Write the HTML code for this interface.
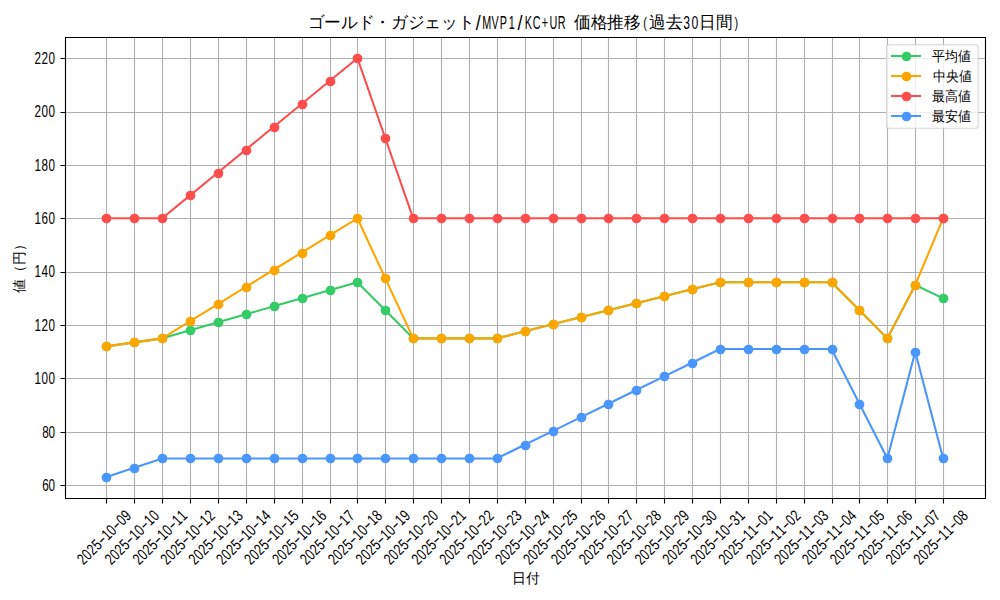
<!DOCTYPE html><html><head><meta charset="utf-8"><style>html,body{margin:0;padding:0;background:#fff;width:1000px;height:600px;overflow:hidden}svg{display:block}text{font-family:"Liberation Sans",sans-serif;fill:#000}</style></head><body>
<svg width="1000" height="600" viewBox="0 0 1000 600">
<rect width="1000" height="600" fill="#fff"/>
<path d="M106.5 37V498M134.5 37V498M162.5 37V498M190.5 37V498M218.5 37V498M246.5 37V498M274.5 37V498M302.5 37V498M330.5 37V498M357.5 37V498M385.5 37V498M413.5 37V498M441.5 37V498M469.5 37V498M497.5 37V498M525.5 37V498M553.5 37V498M581.5 37V498M608.5 37V498M636.5 37V498M664.5 37V498M692.5 37V498M720.5 37V498M748.5 37V498M776.5 37V498M804.5 37V498M832.5 37V498M859.5 37V498M887.5 37V498M915.5 37V498M943.5 37V498M65 485.5H985M65 432.5H985M65 378.5H985M65 325.5H985M65 272.5H985M65 218.5H985M65 165.5H985M65 112.5H985M65 58.5H985" stroke="#b0b0b0" stroke-width="1.11" fill="none"/>
<polyline points="106.42,346.36 134.31,342.36 162.20,338.36 190.09,330.35 217.98,322.35 245.87,314.34 273.76,306.34 301.65,298.33 329.54,290.33 357.43,282.33 385.32,310.34 413.21,338.36 441.10,338.36 468.99,338.36 496.88,338.36 524.77,331.35 552.66,324.35 580.55,317.35 608.44,310.34 636.33,303.34 664.22,296.33 692.11,289.33 720.00,282.33 747.89,282.33 775.78,282.33 803.67,282.33 831.56,282.33 859.45,310.34 887.34,338.36 915.23,284.99 943.12,298.33" fill="none" stroke="#33cc66" stroke-width="2.083" stroke-linejoin="round" stroke-linecap="butt"/>
<g fill="#33cc66"><circle cx="106.5" cy="346.5" r="4.86"/><circle cx="134.5" cy="342.5" r="4.86"/><circle cx="162.5" cy="338.5" r="4.86"/><circle cx="190.5" cy="330.5" r="4.86"/><circle cx="218.5" cy="322.5" r="4.86"/><circle cx="246.5" cy="314.5" r="4.86"/><circle cx="274.5" cy="306.5" r="4.86"/><circle cx="302.5" cy="298.5" r="4.86"/><circle cx="330.5" cy="290.5" r="4.86"/><circle cx="357.5" cy="282.5" r="4.86"/><circle cx="385.5" cy="310.5" r="4.86"/><circle cx="413.5" cy="338.5" r="4.86"/><circle cx="441.5" cy="338.5" r="4.86"/><circle cx="469.5" cy="338.5" r="4.86"/><circle cx="497.5" cy="338.5" r="4.86"/><circle cx="525.5" cy="331.5" r="4.86"/><circle cx="553.5" cy="324.5" r="4.86"/><circle cx="581.5" cy="317.5" r="4.86"/><circle cx="608.5" cy="310.5" r="4.86"/><circle cx="636.5" cy="303.5" r="4.86"/><circle cx="664.5" cy="296.5" r="4.86"/><circle cx="692.5" cy="289.5" r="4.86"/><circle cx="720.5" cy="282.5" r="4.86"/><circle cx="748.5" cy="282.5" r="4.86"/><circle cx="776.5" cy="282.5" r="4.86"/><circle cx="804.5" cy="282.5" r="4.86"/><circle cx="832.5" cy="282.5" r="4.86"/><circle cx="859.5" cy="310.5" r="4.86"/><circle cx="887.5" cy="338.5" r="4.86"/><circle cx="915.5" cy="285.5" r="4.86"/><circle cx="943.5" cy="298.5" r="4.86"/></g>
<polyline points="106.42,346.36 134.31,342.36 162.20,338.36 190.09,321.20 217.98,304.05 245.87,286.90 273.76,269.75 301.65,252.59 329.54,235.44 357.43,218.29 385.32,278.32 413.21,338.36 441.10,338.36 468.99,338.36 496.88,338.36 524.77,331.35 552.66,324.35 580.55,317.35 608.44,310.34 636.33,303.34 664.22,296.33 692.11,289.33 720.00,282.33 747.89,282.33 775.78,282.33 803.67,282.33 831.56,282.33 859.45,310.34 887.34,338.36 915.23,284.99 943.12,218.29" fill="none" stroke="#ffa500" stroke-width="2.083" stroke-linejoin="round" stroke-linecap="butt"/>
<g fill="#ffa500"><circle cx="106.5" cy="346.5" r="4.86"/><circle cx="134.5" cy="342.5" r="4.86"/><circle cx="162.5" cy="338.5" r="4.86"/><circle cx="190.5" cy="321.5" r="4.86"/><circle cx="218.5" cy="304.5" r="4.86"/><circle cx="246.5" cy="287.5" r="4.86"/><circle cx="274.5" cy="270.5" r="4.86"/><circle cx="302.5" cy="253.5" r="4.86"/><circle cx="330.5" cy="235.5" r="4.86"/><circle cx="357.5" cy="218.5" r="4.86"/><circle cx="385.5" cy="278.5" r="4.86"/><circle cx="413.5" cy="338.5" r="4.86"/><circle cx="441.5" cy="338.5" r="4.86"/><circle cx="469.5" cy="338.5" r="4.86"/><circle cx="497.5" cy="338.5" r="4.86"/><circle cx="525.5" cy="331.5" r="4.86"/><circle cx="553.5" cy="324.5" r="4.86"/><circle cx="581.5" cy="317.5" r="4.86"/><circle cx="608.5" cy="310.5" r="4.86"/><circle cx="636.5" cy="303.5" r="4.86"/><circle cx="664.5" cy="296.5" r="4.86"/><circle cx="692.5" cy="289.5" r="4.86"/><circle cx="720.5" cy="282.5" r="4.86"/><circle cx="748.5" cy="282.5" r="4.86"/><circle cx="776.5" cy="282.5" r="4.86"/><circle cx="804.5" cy="282.5" r="4.86"/><circle cx="832.5" cy="282.5" r="4.86"/><circle cx="859.5" cy="310.5" r="4.86"/><circle cx="887.5" cy="338.5" r="4.86"/><circle cx="915.5" cy="285.5" r="4.86"/><circle cx="943.5" cy="218.5" r="4.86"/></g>
<polyline points="106.42,218.29 134.31,218.29 162.20,218.29 190.09,195.42 217.98,172.55 245.87,149.68 273.76,126.81 301.65,103.94 329.54,81.06 357.43,58.20 385.32,138.24 413.21,218.29 441.10,218.29 468.99,218.29 496.88,218.29 524.77,218.29 552.66,218.29 580.55,218.29 608.44,218.29 636.33,218.29 664.22,218.29 692.11,218.29 720.00,218.29 747.89,218.29 775.78,218.29 803.67,218.29 831.56,218.29 859.45,218.29 887.34,218.29 915.23,218.29 943.12,218.29" fill="none" stroke="#ff4d4d" stroke-width="2.083" stroke-linejoin="round" stroke-linecap="butt"/>
<g fill="#ff4d4d"><circle cx="106.5" cy="218.5" r="4.86"/><circle cx="134.5" cy="218.5" r="4.86"/><circle cx="162.5" cy="218.5" r="4.86"/><circle cx="190.5" cy="195.5" r="4.86"/><circle cx="218.5" cy="173.5" r="4.86"/><circle cx="246.5" cy="150.5" r="4.86"/><circle cx="274.5" cy="127.5" r="4.86"/><circle cx="302.5" cy="104.5" r="4.86"/><circle cx="330.5" cy="81.5" r="4.86"/><circle cx="357.5" cy="58.5" r="4.86"/><circle cx="385.5" cy="138.5" r="4.86"/><circle cx="413.5" cy="218.5" r="4.86"/><circle cx="441.5" cy="218.5" r="4.86"/><circle cx="469.5" cy="218.5" r="4.86"/><circle cx="497.5" cy="218.5" r="4.86"/><circle cx="525.5" cy="218.5" r="4.86"/><circle cx="553.5" cy="218.5" r="4.86"/><circle cx="581.5" cy="218.5" r="4.86"/><circle cx="608.5" cy="218.5" r="4.86"/><circle cx="636.5" cy="218.5" r="4.86"/><circle cx="664.5" cy="218.5" r="4.86"/><circle cx="692.5" cy="218.5" r="4.86"/><circle cx="720.5" cy="218.5" r="4.86"/><circle cx="748.5" cy="218.5" r="4.86"/><circle cx="776.5" cy="218.5" r="4.86"/><circle cx="804.5" cy="218.5" r="4.86"/><circle cx="832.5" cy="218.5" r="4.86"/><circle cx="859.5" cy="218.5" r="4.86"/><circle cx="887.5" cy="218.5" r="4.86"/><circle cx="915.5" cy="218.5" r="4.86"/><circle cx="943.5" cy="218.5" r="4.86"/></g>
<polyline points="106.42,477.10 134.31,467.77 162.20,458.43 190.09,458.43 217.98,458.43 245.87,458.43 273.76,458.43 301.65,458.43 329.54,458.43 357.43,458.43 385.32,458.43 413.21,458.43 441.10,458.43 468.99,458.43 496.88,458.43 524.77,444.75 552.66,431.08 580.55,417.40 608.44,403.73 636.33,390.05 664.22,376.38 692.11,362.71 720.00,349.03 747.89,349.03 775.78,349.03 803.67,349.03 831.56,349.03 859.45,403.73 887.34,458.43 915.23,351.70 943.12,458.43" fill="none" stroke="#4a96ff" stroke-width="2.083" stroke-linejoin="round" stroke-linecap="butt"/>
<g fill="#4a96ff"><circle cx="106.5" cy="477.5" r="4.86"/><circle cx="134.5" cy="468.5" r="4.86"/><circle cx="162.5" cy="458.5" r="4.86"/><circle cx="190.5" cy="458.5" r="4.86"/><circle cx="218.5" cy="458.5" r="4.86"/><circle cx="246.5" cy="458.5" r="4.86"/><circle cx="274.5" cy="458.5" r="4.86"/><circle cx="302.5" cy="458.5" r="4.86"/><circle cx="330.5" cy="458.5" r="4.86"/><circle cx="357.5" cy="458.5" r="4.86"/><circle cx="385.5" cy="458.5" r="4.86"/><circle cx="413.5" cy="458.5" r="4.86"/><circle cx="441.5" cy="458.5" r="4.86"/><circle cx="469.5" cy="458.5" r="4.86"/><circle cx="497.5" cy="458.5" r="4.86"/><circle cx="525.5" cy="445.5" r="4.86"/><circle cx="553.5" cy="431.5" r="4.86"/><circle cx="581.5" cy="417.5" r="4.86"/><circle cx="608.5" cy="404.5" r="4.86"/><circle cx="636.5" cy="390.5" r="4.86"/><circle cx="664.5" cy="376.5" r="4.86"/><circle cx="692.5" cy="363.5" r="4.86"/><circle cx="720.5" cy="349.5" r="4.86"/><circle cx="748.5" cy="349.5" r="4.86"/><circle cx="776.5" cy="349.5" r="4.86"/><circle cx="804.5" cy="349.5" r="4.86"/><circle cx="832.5" cy="349.5" r="4.86"/><circle cx="859.5" cy="404.5" r="4.86"/><circle cx="887.5" cy="458.5" r="4.86"/><circle cx="915.5" cy="352.5" r="4.86"/><circle cx="943.5" cy="458.5" r="4.86"/></g>
<path d="M65.5 37V498.5M985.5 37V498.5M65 37.5H986M65 498.5H986" stroke="#000" stroke-width="1.11" fill="none"/>
<path d="M106.5 498.5V503.5M134.5 498.5V503.5M162.5 498.5V503.5M190.5 498.5V503.5M218.5 498.5V503.5M246.5 498.5V503.5M274.5 498.5V503.5M302.5 498.5V503.5M330.5 498.5V503.5M357.5 498.5V503.5M385.5 498.5V503.5M413.5 498.5V503.5M441.5 498.5V503.5M469.5 498.5V503.5M497.5 498.5V503.5M525.5 498.5V503.5M553.5 498.5V503.5M581.5 498.5V503.5M608.5 498.5V503.5M636.5 498.5V503.5M664.5 498.5V503.5M692.5 498.5V503.5M720.5 498.5V503.5M748.5 498.5V503.5M776.5 498.5V503.5M804.5 498.5V503.5M832.5 498.5V503.5M859.5 498.5V503.5M887.5 498.5V503.5M915.5 498.5V503.5M943.5 498.5V503.5M60.5 485.5H65M60.5 432.5H65M60.5 378.5H65M60.5 325.5H65M60.5 272.5H65M60.5 218.5H65M60.5 165.5H65M60.5 112.5H65M60.5 58.5H65" stroke="#000" stroke-width="1.11" fill="none"/>
<text transform="translate(54.9 490.91) scale(0.75 1)" font-size="15.6" text-anchor="end" textLength="17.0" lengthAdjust="spacing">60</text>
<text transform="translate(54.9 437.54) scale(0.75 1)" font-size="15.6" text-anchor="end" textLength="17.0" lengthAdjust="spacing">80</text>
<text transform="translate(54.9 384.18) scale(0.75 1)" font-size="15.6" text-anchor="end" textLength="27.2" lengthAdjust="spacing">100</text>
<text transform="translate(54.9 330.82) scale(0.75 1)" font-size="15.6" text-anchor="end" textLength="27.2" lengthAdjust="spacing">120</text>
<text transform="translate(54.9 277.45) scale(0.75 1)" font-size="15.6" text-anchor="end" textLength="27.2" lengthAdjust="spacing">140</text>
<text transform="translate(54.9 224.09) scale(0.75 1)" font-size="15.6" text-anchor="end" textLength="27.2" lengthAdjust="spacing">160</text>
<text transform="translate(54.9 170.72) scale(0.75 1)" font-size="15.6" text-anchor="end" textLength="27.2" lengthAdjust="spacing">180</text>
<text transform="translate(54.9 117.36) scale(0.75 1)" font-size="15.6" text-anchor="end" textLength="27.2" lengthAdjust="spacing">200</text>
<text transform="translate(54.9 64.00) scale(0.75 1)" font-size="15.6" text-anchor="end" textLength="27.2" lengthAdjust="spacing">220</text>
<text transform="translate(132.10 516.90) rotate(-45) scale(0.75 1)" font-size="16"><tspan x="-91.82 -82.56 -73.30 -64.04">2025</tspan><tspan x="-55.33" dy="-0.55" textLength="10.00" lengthAdjust="spacingAndGlyphs">-</tspan><tspan dy="0.55" x="-45.52 -36.26">10</tspan><tspan x="-27.55" dy="-0.55" textLength="10.00" lengthAdjust="spacingAndGlyphs">-</tspan><tspan dy="0.55" x="-17.74 -8.48">09</tspan></text>
<text transform="translate(159.99 516.90) rotate(-45) scale(0.75 1)" font-size="16"><tspan x="-91.82 -82.56 -73.30 -64.04">2025</tspan><tspan x="-55.33" dy="-0.55" textLength="10.00" lengthAdjust="spacingAndGlyphs">-</tspan><tspan dy="0.55" x="-45.52 -36.26">10</tspan><tspan x="-27.55" dy="-0.55" textLength="10.00" lengthAdjust="spacingAndGlyphs">-</tspan><tspan dy="0.55" x="-17.74 -8.48">10</tspan></text>
<text transform="translate(187.88 516.90) rotate(-45) scale(0.75 1)" font-size="16"><tspan x="-91.82 -82.56 -73.30 -64.04">2025</tspan><tspan x="-55.33" dy="-0.55" textLength="10.00" lengthAdjust="spacingAndGlyphs">-</tspan><tspan dy="0.55" x="-45.52 -36.26">10</tspan><tspan x="-27.55" dy="-0.55" textLength="10.00" lengthAdjust="spacingAndGlyphs">-</tspan><tspan dy="0.55" x="-17.74 -8.48">11</tspan></text>
<text transform="translate(215.77 516.90) rotate(-45) scale(0.75 1)" font-size="16"><tspan x="-91.82 -82.56 -73.30 -64.04">2025</tspan><tspan x="-55.33" dy="-0.55" textLength="10.00" lengthAdjust="spacingAndGlyphs">-</tspan><tspan dy="0.55" x="-45.52 -36.26">10</tspan><tspan x="-27.55" dy="-0.55" textLength="10.00" lengthAdjust="spacingAndGlyphs">-</tspan><tspan dy="0.55" x="-17.74 -8.48">12</tspan></text>
<text transform="translate(243.66 516.90) rotate(-45) scale(0.75 1)" font-size="16"><tspan x="-91.82 -82.56 -73.30 -64.04">2025</tspan><tspan x="-55.33" dy="-0.55" textLength="10.00" lengthAdjust="spacingAndGlyphs">-</tspan><tspan dy="0.55" x="-45.52 -36.26">10</tspan><tspan x="-27.55" dy="-0.55" textLength="10.00" lengthAdjust="spacingAndGlyphs">-</tspan><tspan dy="0.55" x="-17.74 -8.48">13</tspan></text>
<text transform="translate(271.55 516.90) rotate(-45) scale(0.75 1)" font-size="16"><tspan x="-91.82 -82.56 -73.30 -64.04">2025</tspan><tspan x="-55.33" dy="-0.55" textLength="10.00" lengthAdjust="spacingAndGlyphs">-</tspan><tspan dy="0.55" x="-45.52 -36.26">10</tspan><tspan x="-27.55" dy="-0.55" textLength="10.00" lengthAdjust="spacingAndGlyphs">-</tspan><tspan dy="0.55" x="-17.74 -8.48">14</tspan></text>
<text transform="translate(299.44 516.90) rotate(-45) scale(0.75 1)" font-size="16"><tspan x="-91.82 -82.56 -73.30 -64.04">2025</tspan><tspan x="-55.33" dy="-0.55" textLength="10.00" lengthAdjust="spacingAndGlyphs">-</tspan><tspan dy="0.55" x="-45.52 -36.26">10</tspan><tspan x="-27.55" dy="-0.55" textLength="10.00" lengthAdjust="spacingAndGlyphs">-</tspan><tspan dy="0.55" x="-17.74 -8.48">15</tspan></text>
<text transform="translate(327.33 516.90) rotate(-45) scale(0.75 1)" font-size="16"><tspan x="-91.82 -82.56 -73.30 -64.04">2025</tspan><tspan x="-55.33" dy="-0.55" textLength="10.00" lengthAdjust="spacingAndGlyphs">-</tspan><tspan dy="0.55" x="-45.52 -36.26">10</tspan><tspan x="-27.55" dy="-0.55" textLength="10.00" lengthAdjust="spacingAndGlyphs">-</tspan><tspan dy="0.55" x="-17.74 -8.48">16</tspan></text>
<text transform="translate(355.22 516.90) rotate(-45) scale(0.75 1)" font-size="16"><tspan x="-91.82 -82.56 -73.30 -64.04">2025</tspan><tspan x="-55.33" dy="-0.55" textLength="10.00" lengthAdjust="spacingAndGlyphs">-</tspan><tspan dy="0.55" x="-45.52 -36.26">10</tspan><tspan x="-27.55" dy="-0.55" textLength="10.00" lengthAdjust="spacingAndGlyphs">-</tspan><tspan dy="0.55" x="-17.74 -8.48">17</tspan></text>
<text transform="translate(383.11 516.90) rotate(-45) scale(0.75 1)" font-size="16"><tspan x="-91.82 -82.56 -73.30 -64.04">2025</tspan><tspan x="-55.33" dy="-0.55" textLength="10.00" lengthAdjust="spacingAndGlyphs">-</tspan><tspan dy="0.55" x="-45.52 -36.26">10</tspan><tspan x="-27.55" dy="-0.55" textLength="10.00" lengthAdjust="spacingAndGlyphs">-</tspan><tspan dy="0.55" x="-17.74 -8.48">18</tspan></text>
<text transform="translate(411.00 516.90) rotate(-45) scale(0.75 1)" font-size="16"><tspan x="-91.82 -82.56 -73.30 -64.04">2025</tspan><tspan x="-55.33" dy="-0.55" textLength="10.00" lengthAdjust="spacingAndGlyphs">-</tspan><tspan dy="0.55" x="-45.52 -36.26">10</tspan><tspan x="-27.55" dy="-0.55" textLength="10.00" lengthAdjust="spacingAndGlyphs">-</tspan><tspan dy="0.55" x="-17.74 -8.48">19</tspan></text>
<text transform="translate(438.89 516.90) rotate(-45) scale(0.75 1)" font-size="16"><tspan x="-91.82 -82.56 -73.30 -64.04">2025</tspan><tspan x="-55.33" dy="-0.55" textLength="10.00" lengthAdjust="spacingAndGlyphs">-</tspan><tspan dy="0.55" x="-45.52 -36.26">10</tspan><tspan x="-27.55" dy="-0.55" textLength="10.00" lengthAdjust="spacingAndGlyphs">-</tspan><tspan dy="0.55" x="-17.74 -8.48">20</tspan></text>
<text transform="translate(466.78 516.90) rotate(-45) scale(0.75 1)" font-size="16"><tspan x="-91.82 -82.56 -73.30 -64.04">2025</tspan><tspan x="-55.33" dy="-0.55" textLength="10.00" lengthAdjust="spacingAndGlyphs">-</tspan><tspan dy="0.55" x="-45.52 -36.26">10</tspan><tspan x="-27.55" dy="-0.55" textLength="10.00" lengthAdjust="spacingAndGlyphs">-</tspan><tspan dy="0.55" x="-17.74 -8.48">21</tspan></text>
<text transform="translate(494.67 516.90) rotate(-45) scale(0.75 1)" font-size="16"><tspan x="-91.82 -82.56 -73.30 -64.04">2025</tspan><tspan x="-55.33" dy="-0.55" textLength="10.00" lengthAdjust="spacingAndGlyphs">-</tspan><tspan dy="0.55" x="-45.52 -36.26">10</tspan><tspan x="-27.55" dy="-0.55" textLength="10.00" lengthAdjust="spacingAndGlyphs">-</tspan><tspan dy="0.55" x="-17.74 -8.48">22</tspan></text>
<text transform="translate(522.56 516.90) rotate(-45) scale(0.75 1)" font-size="16"><tspan x="-91.82 -82.56 -73.30 -64.04">2025</tspan><tspan x="-55.33" dy="-0.55" textLength="10.00" lengthAdjust="spacingAndGlyphs">-</tspan><tspan dy="0.55" x="-45.52 -36.26">10</tspan><tspan x="-27.55" dy="-0.55" textLength="10.00" lengthAdjust="spacingAndGlyphs">-</tspan><tspan dy="0.55" x="-17.74 -8.48">23</tspan></text>
<text transform="translate(550.45 516.90) rotate(-45) scale(0.75 1)" font-size="16"><tspan x="-91.82 -82.56 -73.30 -64.04">2025</tspan><tspan x="-55.33" dy="-0.55" textLength="10.00" lengthAdjust="spacingAndGlyphs">-</tspan><tspan dy="0.55" x="-45.52 -36.26">10</tspan><tspan x="-27.55" dy="-0.55" textLength="10.00" lengthAdjust="spacingAndGlyphs">-</tspan><tspan dy="0.55" x="-17.74 -8.48">24</tspan></text>
<text transform="translate(578.34 516.90) rotate(-45) scale(0.75 1)" font-size="16"><tspan x="-91.82 -82.56 -73.30 -64.04">2025</tspan><tspan x="-55.33" dy="-0.55" textLength="10.00" lengthAdjust="spacingAndGlyphs">-</tspan><tspan dy="0.55" x="-45.52 -36.26">10</tspan><tspan x="-27.55" dy="-0.55" textLength="10.00" lengthAdjust="spacingAndGlyphs">-</tspan><tspan dy="0.55" x="-17.74 -8.48">25</tspan></text>
<text transform="translate(606.23 516.90) rotate(-45) scale(0.75 1)" font-size="16"><tspan x="-91.82 -82.56 -73.30 -64.04">2025</tspan><tspan x="-55.33" dy="-0.55" textLength="10.00" lengthAdjust="spacingAndGlyphs">-</tspan><tspan dy="0.55" x="-45.52 -36.26">10</tspan><tspan x="-27.55" dy="-0.55" textLength="10.00" lengthAdjust="spacingAndGlyphs">-</tspan><tspan dy="0.55" x="-17.74 -8.48">26</tspan></text>
<text transform="translate(634.12 516.90) rotate(-45) scale(0.75 1)" font-size="16"><tspan x="-91.82 -82.56 -73.30 -64.04">2025</tspan><tspan x="-55.33" dy="-0.55" textLength="10.00" lengthAdjust="spacingAndGlyphs">-</tspan><tspan dy="0.55" x="-45.52 -36.26">10</tspan><tspan x="-27.55" dy="-0.55" textLength="10.00" lengthAdjust="spacingAndGlyphs">-</tspan><tspan dy="0.55" x="-17.74 -8.48">27</tspan></text>
<text transform="translate(662.01 516.90) rotate(-45) scale(0.75 1)" font-size="16"><tspan x="-91.82 -82.56 -73.30 -64.04">2025</tspan><tspan x="-55.33" dy="-0.55" textLength="10.00" lengthAdjust="spacingAndGlyphs">-</tspan><tspan dy="0.55" x="-45.52 -36.26">10</tspan><tspan x="-27.55" dy="-0.55" textLength="10.00" lengthAdjust="spacingAndGlyphs">-</tspan><tspan dy="0.55" x="-17.74 -8.48">28</tspan></text>
<text transform="translate(689.90 516.90) rotate(-45) scale(0.75 1)" font-size="16"><tspan x="-91.82 -82.56 -73.30 -64.04">2025</tspan><tspan x="-55.33" dy="-0.55" textLength="10.00" lengthAdjust="spacingAndGlyphs">-</tspan><tspan dy="0.55" x="-45.52 -36.26">10</tspan><tspan x="-27.55" dy="-0.55" textLength="10.00" lengthAdjust="spacingAndGlyphs">-</tspan><tspan dy="0.55" x="-17.74 -8.48">29</tspan></text>
<text transform="translate(717.79 516.90) rotate(-45) scale(0.75 1)" font-size="16"><tspan x="-91.82 -82.56 -73.30 -64.04">2025</tspan><tspan x="-55.33" dy="-0.55" textLength="10.00" lengthAdjust="spacingAndGlyphs">-</tspan><tspan dy="0.55" x="-45.52 -36.26">10</tspan><tspan x="-27.55" dy="-0.55" textLength="10.00" lengthAdjust="spacingAndGlyphs">-</tspan><tspan dy="0.55" x="-17.74 -8.48">30</tspan></text>
<text transform="translate(745.68 516.90) rotate(-45) scale(0.75 1)" font-size="16"><tspan x="-91.82 -82.56 -73.30 -64.04">2025</tspan><tspan x="-55.33" dy="-0.55" textLength="10.00" lengthAdjust="spacingAndGlyphs">-</tspan><tspan dy="0.55" x="-45.52 -36.26">10</tspan><tspan x="-27.55" dy="-0.55" textLength="10.00" lengthAdjust="spacingAndGlyphs">-</tspan><tspan dy="0.55" x="-17.74 -8.48">31</tspan></text>
<text transform="translate(773.57 516.90) rotate(-45) scale(0.75 1)" font-size="16"><tspan x="-91.82 -82.56 -73.30 -64.04">2025</tspan><tspan x="-55.33" dy="-0.55" textLength="10.00" lengthAdjust="spacingAndGlyphs">-</tspan><tspan dy="0.55" x="-45.52 -36.26">11</tspan><tspan x="-27.55" dy="-0.55" textLength="10.00" lengthAdjust="spacingAndGlyphs">-</tspan><tspan dy="0.55" x="-17.74 -8.48">01</tspan></text>
<text transform="translate(801.46 516.90) rotate(-45) scale(0.75 1)" font-size="16"><tspan x="-91.82 -82.56 -73.30 -64.04">2025</tspan><tspan x="-55.33" dy="-0.55" textLength="10.00" lengthAdjust="spacingAndGlyphs">-</tspan><tspan dy="0.55" x="-45.52 -36.26">11</tspan><tspan x="-27.55" dy="-0.55" textLength="10.00" lengthAdjust="spacingAndGlyphs">-</tspan><tspan dy="0.55" x="-17.74 -8.48">02</tspan></text>
<text transform="translate(829.35 516.90) rotate(-45) scale(0.75 1)" font-size="16"><tspan x="-91.82 -82.56 -73.30 -64.04">2025</tspan><tspan x="-55.33" dy="-0.55" textLength="10.00" lengthAdjust="spacingAndGlyphs">-</tspan><tspan dy="0.55" x="-45.52 -36.26">11</tspan><tspan x="-27.55" dy="-0.55" textLength="10.00" lengthAdjust="spacingAndGlyphs">-</tspan><tspan dy="0.55" x="-17.74 -8.48">03</tspan></text>
<text transform="translate(857.24 516.90) rotate(-45) scale(0.75 1)" font-size="16"><tspan x="-91.82 -82.56 -73.30 -64.04">2025</tspan><tspan x="-55.33" dy="-0.55" textLength="10.00" lengthAdjust="spacingAndGlyphs">-</tspan><tspan dy="0.55" x="-45.52 -36.26">11</tspan><tspan x="-27.55" dy="-0.55" textLength="10.00" lengthAdjust="spacingAndGlyphs">-</tspan><tspan dy="0.55" x="-17.74 -8.48">04</tspan></text>
<text transform="translate(885.13 516.90) rotate(-45) scale(0.75 1)" font-size="16"><tspan x="-91.82 -82.56 -73.30 -64.04">2025</tspan><tspan x="-55.33" dy="-0.55" textLength="10.00" lengthAdjust="spacingAndGlyphs">-</tspan><tspan dy="0.55" x="-45.52 -36.26">11</tspan><tspan x="-27.55" dy="-0.55" textLength="10.00" lengthAdjust="spacingAndGlyphs">-</tspan><tspan dy="0.55" x="-17.74 -8.48">05</tspan></text>
<text transform="translate(913.02 516.90) rotate(-45) scale(0.75 1)" font-size="16"><tspan x="-91.82 -82.56 -73.30 -64.04">2025</tspan><tspan x="-55.33" dy="-0.55" textLength="10.00" lengthAdjust="spacingAndGlyphs">-</tspan><tspan dy="0.55" x="-45.52 -36.26">11</tspan><tspan x="-27.55" dy="-0.55" textLength="10.00" lengthAdjust="spacingAndGlyphs">-</tspan><tspan dy="0.55" x="-17.74 -8.48">06</tspan></text>
<text transform="translate(940.91 516.90) rotate(-45) scale(0.75 1)" font-size="16"><tspan x="-91.82 -82.56 -73.30 -64.04">2025</tspan><tspan x="-55.33" dy="-0.55" textLength="10.00" lengthAdjust="spacingAndGlyphs">-</tspan><tspan dy="0.55" x="-45.52 -36.26">11</tspan><tspan x="-27.55" dy="-0.55" textLength="10.00" lengthAdjust="spacingAndGlyphs">-</tspan><tspan dy="0.55" x="-17.74 -8.48">07</tspan></text>
<text transform="translate(968.80 516.90) rotate(-45) scale(0.75 1)" font-size="16"><tspan x="-91.82 -82.56 -73.30 -64.04">2025</tspan><tspan x="-55.33" dy="-0.55" textLength="10.00" lengthAdjust="spacingAndGlyphs">-</tspan><tspan dy="0.55" x="-45.52 -36.26">11</tspan><tspan x="-27.55" dy="-0.55" textLength="10.00" lengthAdjust="spacingAndGlyphs">-</tspan><tspan dy="0.55" x="-17.74 -8.48">08</tspan></text>
<g><text x="307.50" y="28" font-size="16.67" textLength="166.67" lengthAdjust="spacingAndGlyphs">ゴールド・ガジェット</text><text transform="translate(474.17 28.5) scale(0.6 1)" font-size="18"><tspan x="2.78" dy="1.8" font-size="20.5" textLength="8.33" lengthAdjust="spacingAndGlyphs">/</tspan><tspan x="13.34" dy="-1.8">M</tspan><tspan x="28.72">V</tspan><tspan x="42.61">P</tspan><tspan x="57.49">1</tspan><tspan x="72.22" dy="1.8" font-size="20.5" textLength="8.33" lengthAdjust="spacingAndGlyphs">/</tspan><tspan x="84.28" dy="-1.8">K</tspan><tspan x="97.67">C</tspan><tspan x="112.80">+</tspan><tspan x="125.45">U</tspan><tspan x="139.33">R</tspan></text><text x="574.17" y="28" font-size="16.67" textLength="66.67" lengthAdjust="spacingAndGlyphs">価格推移</text><text transform="translate(643.23 27.6) scale(0.75 1)" font-size="14.5">(</text><text x="649.17" y="28" font-size="16.67" textLength="33.33" lengthAdjust="spacingAndGlyphs">過去</text><text transform="translate(682.50 28.5) scale(0.68 1)" font-size="18" x="1.12 13.38">30</text><text x="699.17" y="28" font-size="16.67" textLength="33.33" lengthAdjust="spacingAndGlyphs">日間</text><text transform="translate(734.50 27.6) scale(0.75 1)" font-size="14.5">)</text></g>
<text x="526" y="583" font-size="13.9" text-anchor="middle" textLength="27.8" lengthAdjust="spacingAndGlyphs">日付</text>
<text transform="translate(24 265.3) rotate(-90)" x="0" y="0" font-size="13.9" text-anchor="middle" textLength="55.6" lengthAdjust="spacingAndGlyphs">値（円）</text>
<rect x="886.6" y="44.8" width="91.6" height="83.4" rx="2.8" ry="2.8" fill="#fff" fill-opacity="0.8" stroke="#cccccc" stroke-opacity="0.8" stroke-width="1.11"/>
<path d="M891 56H921" stroke="#33cc66" stroke-width="2.083"/>
<circle cx="906.5" cy="56.5" r="4.86" fill="#33cc66"/>
<text x="932.2" y="60.60" font-size="13.9" textLength="38.8" lengthAdjust="spacingAndGlyphs">平均値</text>
<path d="M891 76H921" stroke="#ffa500" stroke-width="2.083"/>
<circle cx="906.5" cy="76.5" r="4.86" fill="#ffa500"/>
<text x="933.2" y="80.60" font-size="13.9" textLength="38.8" lengthAdjust="spacingAndGlyphs">中央値</text>
<path d="M891 96H921" stroke="#ff4d4d" stroke-width="2.083"/>
<circle cx="906.5" cy="96.5" r="4.86" fill="#ff4d4d"/>
<text x="932.2" y="100.60" font-size="13.9" textLength="38.8" lengthAdjust="spacingAndGlyphs">最高値</text>
<path d="M891 116H921" stroke="#4a96ff" stroke-width="2.083"/>
<circle cx="906.5" cy="116.5" r="4.86" fill="#4a96ff"/>
<text x="932.2" y="120.60" font-size="13.9" textLength="38.8" lengthAdjust="spacingAndGlyphs">最安値</text>
</svg></body></html>
